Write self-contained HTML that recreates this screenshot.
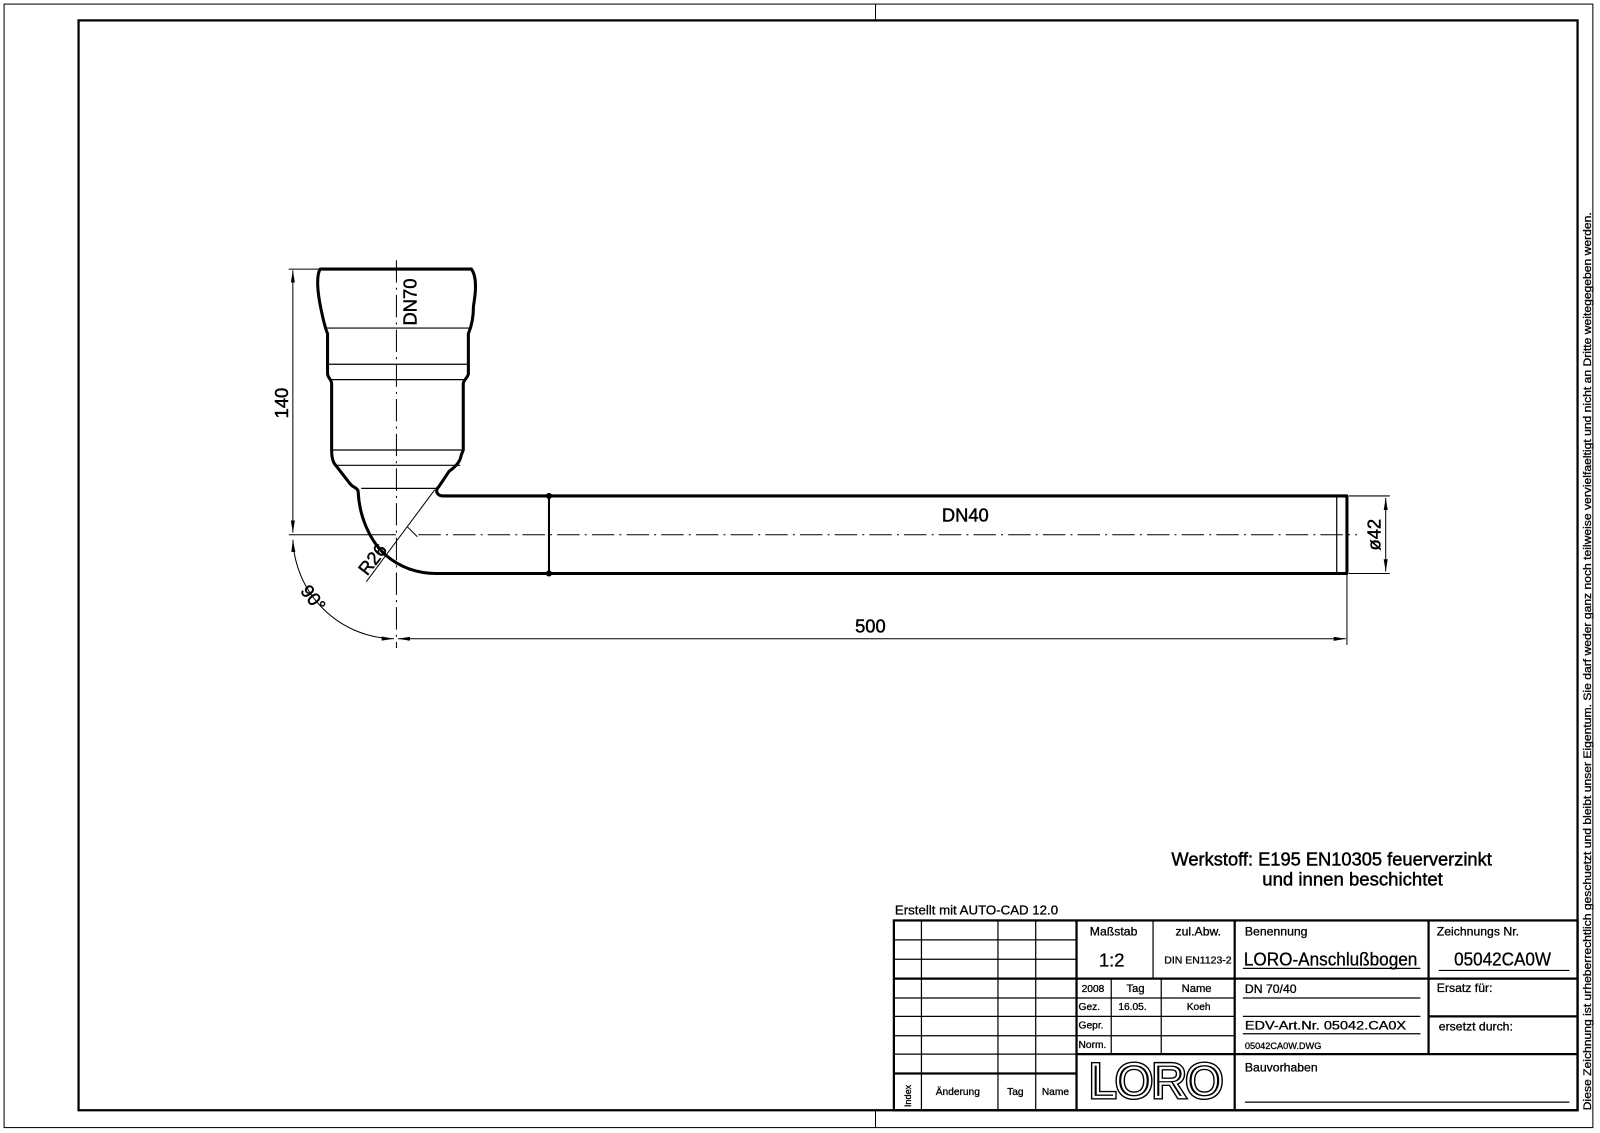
<!DOCTYPE html>
<html><head><meta charset="utf-8"><style>
html,body{margin:0;padding:0;background:#fff}
svg{display:block}
text{font-family:"Liberation Sans Narrow","Liberation Sans",sans-serif;fill:#000}
.b text{stroke:#000;stroke-width:0.45}
</style></head><body>
<svg width="1600" height="1133" viewBox="0 0 1568 1110.3" preserveAspectRatio="none" xmlns="http://www.w3.org/2000/svg">
<defs>
<marker id="a" viewBox="0 0 12 4" refX="12" refY="2" markerWidth="12" markerHeight="4" markerUnits="userSpaceOnUse" orient="auto-start-reverse"><path d="M0,0 L12,2 L0,4z" fill="#000"/></marker>
</defs>
<g fill="none" stroke="#000">
<rect x="4" y="4" width="1557" height="1101" stroke-width="1"/>
<line x1="858" y1="4" x2="858" y2="20" stroke-width="1"/>
<line x1="858" y1="1088" x2="858" y2="1105" stroke-width="1"/>
<rect x="77" y="20" width="1469" height="1068" stroke-width="2.2"/>

<path stroke-width="3" stroke-linejoin="round" d="M313.7,263.7 C310,270 311,285 314,300 C316,310 318,320 321,327 L321,366 C321,370 325,372 325,376 L325,441 C325,450 327,454 329,456 L343,474 C346,478 351,478 351,482 C352,505 362,530 378,544 C392,556 408,562 428,562 L1320,562 L1320,486 L434,486 C428,486 426,480 430,477 L440,462 C448,456 451,452 452,446 L454,441 L454,376 C454,372 459,370 459,366 L459,327 C462,320 464,310 464,300 C466,288 468,272 462,263.7 Z"/>
<g stroke-width="1.2">
<line x1="320" y1="321.5" x2="460" y2="321.5"/>
<line x1="321" y1="357" x2="460" y2="357"/>
<line x1="324" y1="372" x2="455" y2="372"/>
<line x1="325" y1="441" x2="454" y2="441"/>
<line x1="328" y1="456" x2="451" y2="456"/>
<line x1="354" y1="478.6" x2="428" y2="478.6"/>
<line x1="1310" y1="486" x2="1310" y2="562"/>
</g>
<line x1="538" y1="486" x2="538" y2="562" stroke-width="2"/>
<circle cx="538" cy="486" r="2.5" fill="#000"/><circle cx="538" cy="562" r="2.5" fill="#000"/>

<line x1="388.5" y1="255" x2="388.5" y2="635" stroke-width="1" stroke-dasharray="22,5,2,5"/>
<line x1="410" y1="524" x2="1330" y2="524" stroke-width="1" stroke-dasharray="22,5,2,5"/>

<g stroke-width="1">
<line x1="283" y1="263.7" x2="313" y2="263.7"/>
<line x1="283" y1="524" x2="388" y2="524"/>
<line x1="287" y1="265" x2="287" y2="522" marker-start="url(#a)" marker-end="url(#a)"/>
<line x1="390" y1="626" x2="1319" y2="626" marker-start="url(#a)" marker-end="url(#a)"/>
<line x1="1320" y1="563" x2="1320" y2="632"/>
<line x1="1322" y1="486" x2="1362" y2="486"/>
<line x1="1322" y1="562" x2="1362" y2="562"/>
<line x1="1358" y1="488" x2="1358" y2="560" marker-start="url(#a)" marker-end="url(#a)"/>
<path d="M287,529 A101,101 0 0 0 386,626" marker-start="url(#a)" marker-end="url(#a)"/>
<line x1="426" y1="480" x2="359" y2="570"/>
<line x1="399" y1="516" x2="409" y2="526"/>
</g>
</g>
<g font-size="18" class="b">
<text x="0" y="0" transform="translate(282,395) rotate(-90)" text-anchor="middle">140</text>
<text x="0" y="0" transform="translate(408,296) rotate(-90)" text-anchor="middle">DN70</text>
<text x="946" y="511" text-anchor="middle">DN40</text>
<text x="853" y="620" text-anchor="middle">500</text>
<text x="0" y="0" transform="translate(1353,524) rotate(-90)" text-anchor="middle">ø42</text>
<text x="0" y="0" transform="translate(370,552) rotate(-52)" text-anchor="middle">R26</text>
<text x="0" y="0" transform="translate(302,590) rotate(52)" text-anchor="middle">90°</text>
<text x="1148" y="848" textLength="314" lengthAdjust="spacingAndGlyphs">Werkstoff:  E195  EN10305  feuerverzinkt</text>
<text x="1237" y="868" textLength="177" lengthAdjust="spacingAndGlyphs">und  innen  beschichtet</text>
</g>

<text x="877" y="896" font-size="13" stroke="#000" stroke-width="0.3">Erstellt mit AUTO-CAD 12.0</text>
<g fill="none" stroke="#000">
<rect x="876" y="902" width="670" height="186" stroke-width="2.2"/>
<g stroke-width="1.2">
<line x1="876" y1="921" x2="1055" y2="921"/><line x1="876" y1="940" x2="1055" y2="940"/>
<line x1="876" y1="978" x2="1055" y2="978"/><line x1="876" y1="996" x2="1055" y2="996"/>
<line x1="876" y1="1015" x2="1055" y2="1015"/><line x1="876" y1="1033" x2="1055" y2="1033"/>
<line x1="903" y1="902" x2="903" y2="1088"/><line x1="978" y1="902" x2="978" y2="1088"/><line x1="1015" y1="902" x2="1015" y2="1088"/>
<line x1="1055" y1="978" x2="1210" y2="978"/><line x1="1055" y1="996" x2="1210" y2="996"/><line x1="1055" y1="1015" x2="1210" y2="1015"/>
<line x1="1089" y1="959" x2="1089" y2="1033"/><line x1="1138" y1="959" x2="1138" y2="1033"/>
<line x1="1130" y1="902" x2="1130" y2="959"/>
<line x1="1218" y1="978" x2="1392" y2="978"/><line x1="1218" y1="996" x2="1392" y2="996"/>
<line x1="1218" y1="1013" x2="1392" y2="1013"/><line x1="1218" y1="949" x2="1392" y2="949"/>
<line x1="1410" y1="951" x2="1538" y2="951"/><line x1="1220" y1="1080" x2="1538" y2="1080"/>
</g>
<g stroke-width="2.2">
<line x1="876" y1="959" x2="1547" y2="959"/>
<line x1="876" y1="1052" x2="1055" y2="1052"/>
<line x1="1055" y1="1033" x2="1547" y2="1033"/>
<line x1="1400" y1="996" x2="1547" y2="996"/>
<line x1="1055" y1="902" x2="1055" y2="1088"/>
<line x1="1210" y1="902" x2="1210" y2="1088"/>
<line x1="1400" y1="902" x2="1400" y2="1033"/>
</g>
</g>
<g font-size="12" stroke="#000" stroke-width="0.3">
<text x="1068" y="917">Maßstab</text>
<text x="1152" y="917">zul.Abw.</text>
<text x="1220" y="917">Benennung</text>
<text x="1408" y="917">Zeichnungs Nr.</text>
<text x="1077" y="947" font-size="18">1:2</text>
<text x="1141" y="944" font-size="10" textLength="66" lengthAdjust="spacingAndGlyphs">DIN EN1123-2</text>
<text x="1219" y="946" font-size="18" textLength="170" lengthAdjust="spacingAndGlyphs">LORO-Anschlußbogen</text>
<text x="1425" y="946" font-size="18" textLength="95" lengthAdjust="spacingAndGlyphs">05042CA0W</text>
<text x="1060" y="972" font-size="10">2008</text>
<text x="1104" y="972" font-size="11">Tag</text>
<text x="1158" y="972" font-size="11">Name</text>
<text x="1220" y="973">DN 70/40</text>
<text x="1408" y="972">Ersatz für:</text>
<text x="1057" y="990" font-size="10">Gez.</text>
<text x="1096" y="990" font-size="10">16.05.</text>
<text x="1163" y="990" font-size="10">Koeh</text>
<text x="1057" y="1008" font-size="10">Gepr.</text>
<text x="1220" y="1009" textLength="158" lengthAdjust="spacingAndGlyphs">EDV-Art.Nr. 05042.CA0X</text>
<text x="1410" y="1010">ersetzt durch:</text>
<text x="1057" y="1027" font-size="10">Norm.</text>
<text x="1220" y="1028" font-size="9">05042CA0W.DWG</text>
<text x="1220" y="1050">Bauvorhaben</text>
<text x="917" y="1073" font-size="10">Änderung</text>
<text x="987" y="1073" font-size="10">Tag</text>
<text x="1021" y="1073" font-size="10">Name</text>
<text x="0" y="0" font-size="9" transform="translate(893,1085) rotate(-90)">Index</text>
</g>
<text x="1133" y="1075" font-size="46" text-anchor="middle" fill="#fff" stroke="#000" stroke-width="5">LORO</text>
<text x="1133" y="1075" font-size="46" text-anchor="middle" fill="#000" stroke="#fff" stroke-width="2.2">LORO</text>
<text x="0" y="0" font-size="10.5" stroke="#000" stroke-width="0.3" transform="translate(1559,1088) rotate(-90)" textLength="880" lengthAdjust="spacingAndGlyphs">Diese Zeichnung ist urheberrechtlich geschuetzt und bleibt unser Eigentum. Sie darf weder ganz noch teilweise vervielfaeltigt und nicht an Dritte weitegegeben werden.</text>
</svg>
</body></html>
